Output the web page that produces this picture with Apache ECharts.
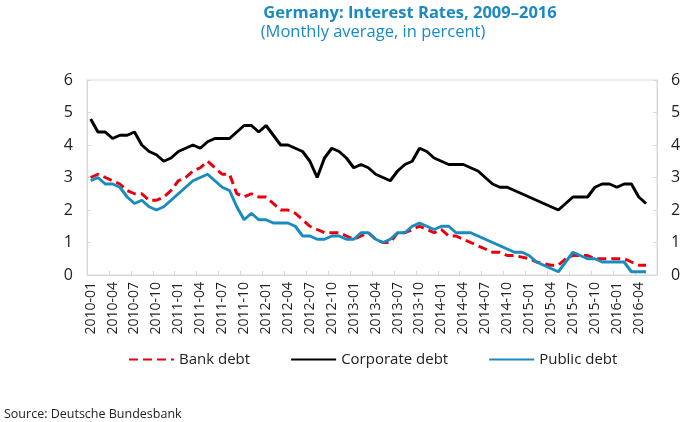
<!DOCTYPE html>
<html>
<head>
<meta charset="utf-8">
<script src="https://cdn.jsdelivr.net/npm/echarts@6/dist/echarts.min.js"></script>
<style>
html,body{margin:0;padding:0;background:#fff;}
#chart{width:700px;height:422px;}
</style>
</head>
<body>
<div id="chart"></div>
<script>
var categories = [
'2010-01','2010-02','2010-03','2010-04','2010-05','2010-06','2010-07','2010-08','2010-09','2010-10','2010-11','2010-12',
'2011-01','2011-02','2011-03','2011-04','2011-05','2011-06','2011-07','2011-08','2011-09','2011-10','2011-11','2011-12',
'2012-01','2012-02','2012-03','2012-04','2012-05','2012-06','2012-07','2012-08','2012-09','2012-10','2012-11','2012-12',
'2013-01','2013-02','2013-03','2013-04','2013-05','2013-06','2013-07','2013-08','2013-09','2013-10','2013-11','2013-12',
'2014-01','2014-02','2014-03','2014-04','2014-05','2014-06','2014-07','2014-08','2014-09','2014-10','2014-11','2014-12',
'2015-01','2015-02','2015-03','2015-04','2015-05','2015-06','2015-07','2015-08','2015-09','2015-10','2015-11','2015-12',
'2016-01','2016-02','2016-03','2016-04','2016-05','2016-06'
];

var bankDebt = [
3.0,3.1,3.0,2.9,2.8,2.6,2.5,2.5,2.3,2.3,2.4,2.6,
2.9,3.0,3.2,3.3,3.5,3.3,3.1,3.1,2.5,2.4,2.5,2.4,
2.4,2.2,2.0,2.0,1.9,1.7,1.5,1.4,1.3,1.3,1.3,1.2,
1.1,1.2,1.3,1.1,1.0,1.0,1.3,1.3,1.4,1.5,1.4,1.3,
1.4,1.2,1.2,1.1,1.0,0.9,0.8,0.7,0.7,0.6,0.6,0.55,
0.5,0.4,0.35,0.3,0.3,0.5,0.6,0.6,0.6,0.5,0.5,0.5,
0.5,0.5,0.4,0.3,0.3
];

var corporateDebt = [
4.8,4.4,4.4,4.2,4.3,4.3,4.4,4.0,3.8,3.7,3.5,3.6,
3.8,3.9,4.0,3.9,4.1,4.2,4.2,4.2,4.4,4.6,4.6,4.4,
4.6,4.3,4.0,4.0,3.9,3.8,3.5,3.0,3.6,3.9,3.8,3.6,
3.3,3.4,3.3,3.1,3.0,2.9,3.2,3.4,3.5,3.9,3.8,3.6,
3.5,3.4,3.4,3.4,3.3,3.2,3.0,2.8,2.7,2.7,2.6,2.5,
2.4,2.3,2.2,2.1,2.0,2.2,2.4,2.4,2.4,2.7,2.8,2.8,
2.7,2.8,2.8,2.4,2.2
];

var publicDebt = [
2.9,3.0,2.8,2.8,2.7,2.4,2.2,2.3,2.1,2.0,2.1,2.3,
2.5,2.7,2.9,3.0,3.1,2.9,2.7,2.6,2.1,1.7,1.9,1.7,
1.7,1.6,1.6,1.6,1.5,1.2,1.2,1.1,1.1,1.2,1.2,1.1,
1.1,1.3,1.3,1.1,1.0,1.1,1.3,1.3,1.5,1.6,1.5,1.4,
1.5,1.5,1.3,1.3,1.3,1.2,1.1,1.0,0.9,0.8,0.7,0.7,
0.6,0.4,0.3,0.2,0.1,0.4,0.7,0.6,0.5,0.5,0.4,0.4,
0.4,0.4,0.1,0.1,0.1
];

var yTicks = [0,1,2,3,4,5,6];

var FONT = '"Open Sans", "Noto Sans", sans-serif';
var chart = echarts.init(document.getElementById('chart'), null, {renderer:'canvas'});

var yAxisCommon = {
  type:'value', min:yTicks[0], max:yTicks[yTicks.length-1], interval:1,
  splitLine:{show:false},
  axisLine:{show:true, lineStyle:{color:'#d9d9d9', width:1}},
  axisTick:{show:true, inside:true, length:4, lineStyle:{color:'#d9d9d9'}},
  axisLabel:{color:'#222', fontSize:16, fontFamily:FONT, margin:14}
};

chart.setOption({
  animation:false,
  backgroundColor:'#fff',
  title:[
    {text:'Germany: Interest Rates, 2009\u20132016', left:405, top:0, textAlign:'center',
     textStyle:{color:'#1a8ac2', fontSize:16.5, fontWeight:'bold', fontFamily:FONT}},
    {text:'(Monthly average, in percent)', left:368, top:19, textAlign:'center',
     textStyle:{color:'#1a8ac2', fontSize:16.5, fontWeight:'normal', fontFamily:FONT}},
    {text:'Source: Deutsche Bundesbank', left:-1, top:403,
     textStyle:{color:'#222', fontSize:12.5, fontWeight:'normal', fontFamily:FONT}}
  ],
  legend:{
    left:123, top:347, itemWidth:45, itemHeight:14, itemGap:40,
    itemStyle:{opacity:0},
    textStyle:{color:'#222', fontSize:15, fontFamily:FONT},
    data:['Bank debt','Corporate debt','Public debt']
  },
  grid:{left:87, right:43, top:80, bottom:147, show:true, borderColor:'#d9d9d9', borderWidth:1},
  xAxis:{
    type:'category', data:categories, boundaryGap:true,
    axisLine:{show:true, lineStyle:{color:'#d9d9d9'}},
    axisTick:{show:true, inside:true, length:4, interval:2, lineStyle:{color:'#d9d9d9'}},
    axisLabel:{interval:2, rotate:90, color:'#222', fontSize:14, fontFamily:FONT, margin:7}
  },
  yAxis:[
    Object.assign({position:'left'}, yAxisCommon),
    Object.assign({position:'right'}, yAxisCommon)
  ],
  series:[
    {name:'Bank debt', type:'line', data:bankDebt, symbol:'none', yAxisIndex:0, z:3,
     lineStyle:{color:'#e8000b', width:3, type:[9,5]}, itemStyle:{color:'#e8000b'}},
    {name:'Corporate debt', type:'line', data:corporateDebt, symbol:'none', yAxisIndex:0, z:2,
     lineStyle:{color:'#000', width:3}, itemStyle:{color:'#000'}},
    {name:'Public debt', type:'line', data:publicDebt, symbol:'none', yAxisIndex:0, z:4,
     lineStyle:{color:'#1a8bbd', width:3}, itemStyle:{color:'#1a8bbd'}}
  ]
});
</script>
</body>
</html>
